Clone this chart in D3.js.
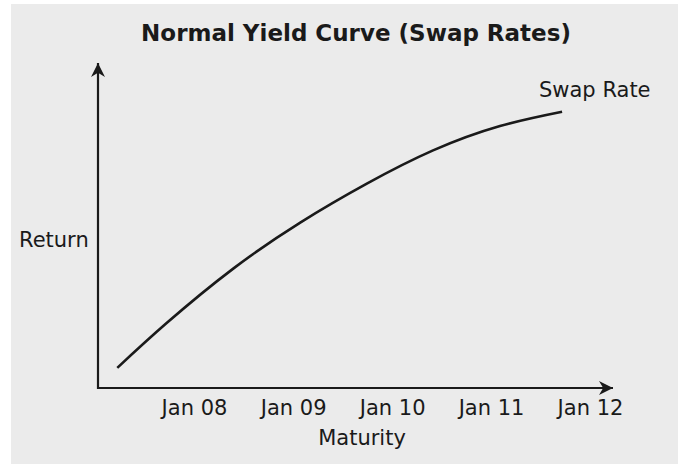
<!DOCTYPE html>
<html>
<head>
<meta charset="utf-8">
<script src="https://cdn.jsdelivr.net/npm/d3@7"></script>
<style>
  body { margin: 0; background: #fff; }
  text { font-family: "DejaVu Sans", Verdana, sans-serif; fill: #1a1a1a; }
</style>
</head>
<body>
<div id="chart"></div>
<script>
// chart data
let dates = ["2007-03-24", "2007-09-21", "2008-05-26", "2009-01-27", "2009-09-28", "2010-06-01", "2011-02-03", "2011-09-20"]
let swapRate = [0.62, 1.99, 3.68, 5.09, 6.28, 7.31, 8.06, 8.50]
let tickDates = ["2008-01-01", "2009-01-01", "2010-01-01", "2011-01-01", "2012-01-01"]
let tickLabels = ["Jan 08", "Jan 09", "Jan 10", "Jan 11", "Jan 12"]

let svgWidth = 678
let svgHeight = 464

let svg = d3.select("#chart").append("svg")
    .attr("width", svgWidth)
    .attr("height", svgHeight)

// grey panel
svg.append("rect")
    .attr("x", 11).attr("y", 4)
    .attr("width", svgWidth - 11).attr("height", svgHeight - 4)
    .attr("fill", "#ebebeb")

let parse = d3.timeParse("%Y-%m-%d")
let data = dates.map((d, i) => ({ date: parse(d), value: swapRate[i] }))

// scales
let x = d3.scaleTime()
    .domain([parse(tickDates[0]), parse(tickDates[tickDates.length - 1])])
    .range([194, 590])

let y = d3.scaleLinear()
    .domain([0, 10])
    .range([388, 63])

// arrow heads
let defs = svg.append("defs")
defs.append("marker")
    .attr("id", "arrow")
    .attr("viewBox", "0 0 10 10")
    .attr("refX", 10).attr("refY", 5)
    .attr("markerUnits", "userSpaceOnUse")
    .attr("markerWidth", 17).attr("markerHeight", 14)
    .attr("orient", "auto")
    .append("path")
    .attr("d", "M0,0 L10,5 L0,10 L3,5 Z")
    .attr("fill", "#1a1a1a")

let x0 = 98, y0 = 388

// axis lines
svg.append("path")
    .attr("d", `M${x0},${y0 + 1} L${x0},${y(10)}`)
    .attr("stroke", "#1a1a1a").attr("stroke-width", 2.2)
    .attr("fill", "none")
    .attr("marker-end", "url(#arrow)")

svg.append("path")
    .attr("d", `M${x0 - 1},${y0} L613,${y0}`)
    .attr("stroke", "#1a1a1a").attr("stroke-width", 2.2)
    .attr("fill", "none")
    .attr("marker-end", "url(#arrow)")

// tick labels, no tick marks
let xAxis = d3.axisBottom(x)
    .tickValues(tickDates.map(parse))
    .tickFormat((d, i) => tickLabels[i])
    .tickSize(0)
    .tickPadding(12)

let gx = svg.append("g")
    .attr("transform", `translate(0,${y0})`)
    .call(xAxis)
gx.select(".domain").remove()
gx.selectAll("text")
    .style("font-family", "DejaVu Sans, Verdana, sans-serif")
    .style("font-size", "21px")
    .attr("fill", "#1a1a1a")

// curve
let line = d3.line()
    .x(d => x(d.date))
    .y(d => y(d.value))
    .curve(d3.curveNatural)

svg.append("path")
    .datum(data)
    .attr("d", line)
    .attr("fill", "none")
    .attr("stroke", "#1a1a1a")
    .attr("stroke-width", 2.6)

// titles
svg.append("text")
    .attr("x", 356).attr("y", 41)
    .attr("text-anchor", "middle")
    .style("font-size", "23px")
    .style("font-weight", "bold")
    .text("Normal Yield Curve (Swap Rates)")

svg.append("text")
    .attr("x", 539).attr("y", 97)
    .style("font-size", "21px")
    .text("Swap Rate")

svg.append("text")
    .attr("x", 19).attr("y", 247)
    .style("font-size", "21px")
    .text("Return")

svg.append("text")
    .attr("x", 362).attr("y", 445)
    .attr("text-anchor", "middle")
    .style("font-size", "21px")
    .text("Maturity")
</script>
</body>
</html>
